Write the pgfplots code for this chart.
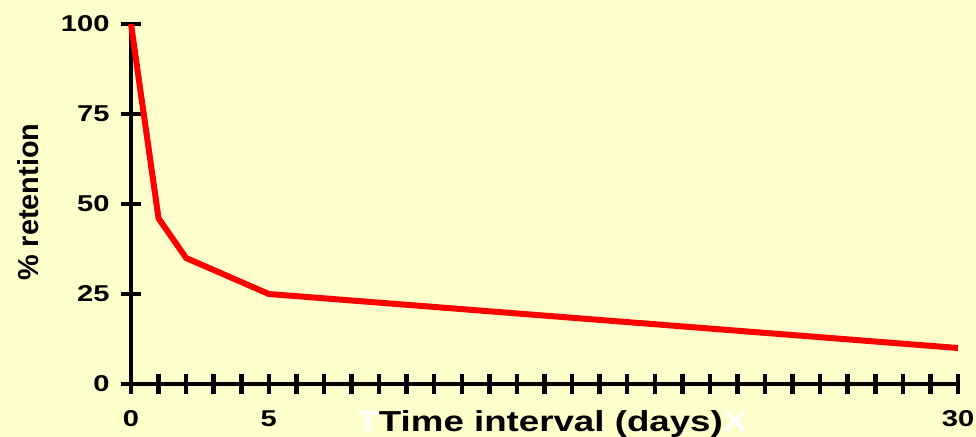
\documentclass[border=0pt]{standalone}
\usepackage{fontspec}
\setmainfont[FakeStretch=1.27]{Liberation Sans}
\newfontfamily\yfont{Liberation Sans}
\usepackage{pgfplots}
\pgfplotsset{compat=1.18}
\definecolor{bg}{HTML}{FFFFCC}
\definecolor{myred}{HTML}{FF0000}
\begin{document}
\begin{tikzpicture}
\fill[bg] (-131bp,-53bp) rectangle (845bp,384bp);
\useasboundingbox (-131bp,-53bp) rectangle (845bp,384bp);
\begin{axis}[
  at={(0,0)}, anchor=origin,
  scale only axis, width=827bp, height=360bp,
  xmin=0, xmax=30, ymin=0, ymax=100,
  axis x line=bottom, axis y line=left,
  axis line style={line width=4.5bp, -},
  xtick={0,...,30}, ytick={0,25,50,75,100},
  xticklabels={0,{},{},{},{},5,{},{},{},{},{},{},{},{},{},{},{},{},{},{},{},{},{},{},{},{},{},{},{},{},30},
  tick align=center, major tick length=20bp,
  tick style={line width=4.5bp, black},
  /pgf/number format/assume math mode=true,
  tick label style={font=\fontsize{23}{23}\selectfont\bfseries},
  xticklabel style={anchor=center, yshift=-25bp},
  yticklabel style={anchor=east, xshift=-8bp},
  xlabel={{\color{white}T}Time interval (days){\color{white}X}},
  xlabel style={font=\fontsize{29}{29}\selectfont\bfseries, at={(axis description cs:0.509,0)}, anchor=center, yshift=-40bp},
  clip=false,
]
\addplot[myred, line width=6bp, line join=round, mark=none] coordinates {(0,100)(1,46)(2,35)(5,25)(30,10)};
\node[rotate=90, anchor=center, font=\yfont\fontsize{29}{29}\selectfont\bfseries, xshift=0bp] at ([xshift=-103bp]rel axis cs:0,0.505) {\% retention};
\end{axis}
\end{tikzpicture}
\end{document}
